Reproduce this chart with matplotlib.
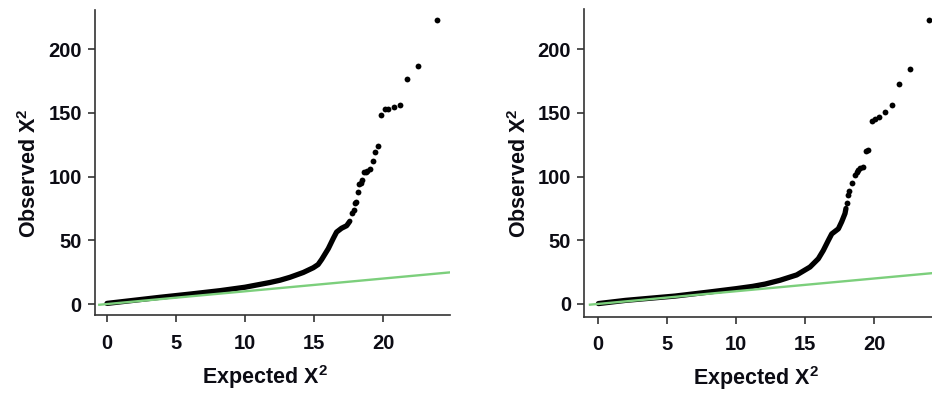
import matplotlib
matplotlib.use("Agg")
import matplotlib.pyplot as plt

plt.rcParams['font.family'] = ['Liberation Sans', 'DejaVu Sans']
plt.rcParams['mathtext.fontset'] = 'custom'
plt.rcParams['mathtext.rm'] = 'Liberation Sans:bold'
plt.rcParams['mathtext.bf'] = 'Liberation Sans:bold'
plt.rcParams['mathtext.default'] = 'bf'

# ---- data ----
# Left panel: dense body of the QQ curve (expected, observed)
left_body_x = [0.0, 2.0, 3.84, 6.0, 8.19, 10.0, 11.8, 12.54, 13.26, 14.23, 14.95,
               15.3, 15.56, 16.04, 16.4, 16.64, 17.0, 17.37, 17.6]
left_body_y = [0.5, 3.0, 5.3, 7.8, 10.5, 13.2, 16.9, 18.7, 21.0, 24.8, 28.5,
               31.0, 35.0, 43.5, 51.5, 56.5, 59.5, 61.5, 65.0]
# Left panel: sparse tail points
left_tail_x = [17.73, 17.9, 17.97, 18.04, 18.17, 18.28, 18.38, 18.46, 18.65, 18.75,
               18.87, 19.06, 19.3, 19.45, 19.64, 19.86, 20.14, 20.39, 20.77,
               21.21, 21.74, 22.51, 23.89]
left_tail_y = [71.2, 73.8, 79.0, 80.1, 88.2, 94.2, 94.7, 97.3, 103.4, 104.0,
               104.4, 105.7, 112.0, 119.6, 123.8, 148.4, 153.1, 153.3, 154.6,
               156.0, 176.6, 186.8, 222.9]

# Right panel: dense body
right_body_x = [0.05, 2.0, 5.59, 8.0, 10.0, 11.2, 12.1, 13.18, 14.39, 15.35, 15.95,
                16.31, 16.68, 16.92, 17.4, 17.64, 17.88, 17.95]
right_body_y = [0.3, 2.8, 6.2, 9.3, 12.0, 13.8, 15.6, 18.6, 22.8, 29.0, 35.5,
                42.0, 50.0, 55.0, 59.0, 64.5, 71.0, 75.0]
# Right panel: sparse tail points
right_tail_x = [18.0, 18.12, 18.19, 18.37, 18.6, 18.72, 18.84, 19.0, 19.2, 19.4,
                19.57, 19.81, 20.05, 20.37, 20.77, 21.26, 21.79, 22.58, 23.95]
right_tail_y = [79.5, 85.6, 88.9, 94.7, 101.3, 103.5, 105.2, 106.8, 107.8, 120.3,
                120.9, 143.9, 145.2, 147.0, 150.9, 156.2, 172.9, 184.7, 222.9]

# Reference line (expected = observed)
ref_x = [-0.56, 26.0]
ref_y = [-0.56, 26.0]

x_ticks = [0, 5, 10, 15, 20]
y_ticks = [0, 50, 100, 150, 200]
x_label = "Expected X$^2$"
y_label = "Observed X$^2$"

W, H = 932, 398
fig = plt.figure(figsize=(W / 100, H / 100), dpi=100)

panels = [
    dict(rect=[95 / W, 1 - 315 / H, 355 / W, 305 / H], xlim=(-0.87, 24.86), ylim=(-8.6, 230.8),
         bx=left_body_x, by=left_body_y, tx=left_tail_x, ty=left_tail_y,
         xl=(0.48, -0.205), yl=(-0.183, 0.466)),
    dict(rect=[584.3 / W, 1 - 316.7 / H, 347.7 / W, 307.4 / H], xlim=(-0.97, 24.17), ylim=(-10.0, 231.3),
         bx=right_body_x, by=right_body_y, tx=right_tail_x, ty=right_tail_y,
         xl=(0.494, -0.2), yl=(-0.187, 0.466)),
]

txt_color = '#0c0c14'
for p in panels:
    ax = fig.add_axes(p['rect'])
    ax.plot(p['bx'], p['by'], color='black', lw=3.8, solid_capstyle='round',
            solid_joinstyle='round', zorder=2)
    ax.plot(p['tx'], p['ty'], 'o', color='black', ms=4.2, mew=0, zorder=2)
    ax.plot(ref_x, ref_y, color='#7ccf7c', lw=1.7, zorder=3, clip_on=True)
    ax.set_xlim(*p['xlim'])
    ax.set_ylim(*p['ylim'])
    ax.set_xticks(x_ticks)
    ax.set_yticks(y_ticks)
    for s in ['top', 'right']:
        ax.spines[s].set_visible(False)
    for s in ['left', 'bottom']:
        ax.spines[s].set_linewidth(1.2)
        ax.spines[s].set_color('#333333')
    ax.tick_params(direction='out', length=5, width=1.2, color='#333333',
                   labelsize=14.5, labelcolor=txt_color)
    ax.tick_params(axis='x', pad=8.5)
    ax.tick_params(axis='y', pad=4.5)
    for lab in ax.get_xticklabels() + ax.get_yticklabels():
        lab.set_fontweight('bold')
    ax.set_xlabel(x_label, fontsize=15.5, fontweight='bold', color=txt_color)
    ax.set_ylabel(y_label, fontsize=15.5, fontweight='bold', color=txt_color)
    ax.xaxis.set_label_coords(*p['xl'])
    ax.yaxis.set_label_coords(*p['yl'])
    ax.xaxis.label.set_va('center')
    ax.yaxis.label.set_va('center')

fig.savefig('out.png', dpi=100)
